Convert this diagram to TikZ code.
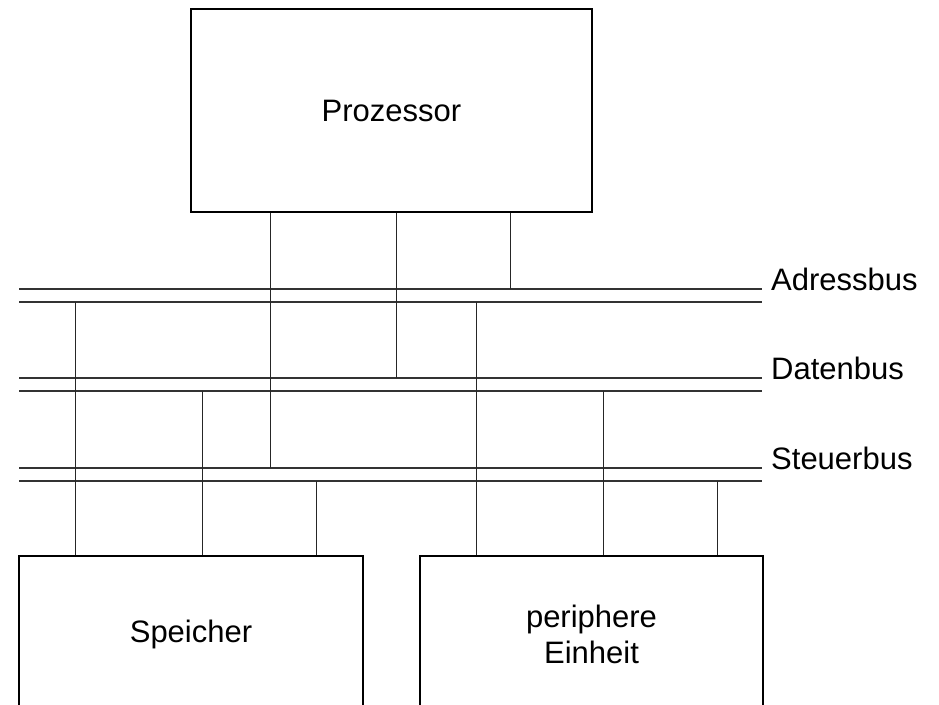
\documentclass[tikz,border=0pt]{standalone}
\usepackage{fontspec}
\setmainfont{Liberation Sans}
\usetikzlibrary{positioning}
\tikzset{%
    unit/.style={draw,line width=1.4pt,align=center,inner sep=0pt},
    busline/.style={line width=1.3pt,black!80},
    tap/.style={line width=1.2pt,black!85},
    buslabel/.style={anchor=base west,inner sep=0pt},
}
\begin{document}
\begin{tikzpicture}[x=1pt,y=-1pt,font=\fontsize{31}{36}\selectfont]
 \useasboundingbox (0,0) rectangle (939,704);
 \clip (0,0) rectangle (939,704);
 \node[unit,minimum width=401pt,minimum height=203pt] (cpu) at (391.5,110.5) {Prozessor};
 \node[unit,minimum width=344pt,minimum height=156pt] (mem) at (191,634) {Speicher};
 \node[unit,minimum width=343pt,minimum height=156pt] (io) at (591.5,634) {periphere\\Einheit};
 \foreach \name/\y/\txt in {adr/289/Adressbus,dat/378/Datenbus,ctl/468/Steuerbus}
 {\draw[busline] (19,\y) coordinate (\name-in) -- (762,\y) coordinate (\name-end);
  \draw[busline] (19,\y+13) coordinate (\name-out) -- (762,\y+13);
  \node[buslabel] (\name) at ([xshift=9pt,yshift=-1pt]\name-end) {\txt};}
 \foreach \dx/\name in {80/ctl,206/dat,320/adr}
 {\draw[tap] ([xshift=\dx pt]cpu.south west) coordinate (t) -- (t |- \name-in);}
 \foreach \dev in {mem,io}
 \foreach \dx/\name in {57/adr,184/dat,298/ctl}
 {\draw[tap] ([xshift=\dx pt]\dev.north west) coordinate (t) -- (t |- \name-out);}
\end{tikzpicture}
\end{document}
